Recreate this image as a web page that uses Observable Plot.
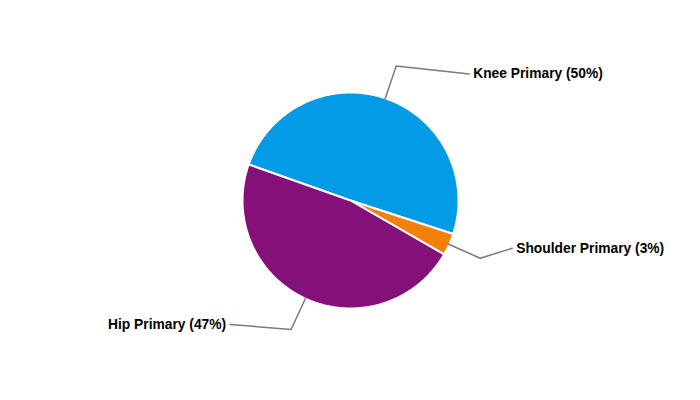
<!DOCTYPE html>
<html>
<head>
<meta charset="utf-8">
<script src="https://cdn.jsdelivr.net/npm/d3@7"></script>
<script src="https://cdn.jsdelivr.net/npm/@observablehq/plot@0.6"></script>
<style>
  html, body { margin: 0; padding: 0; background: #fff; }
  #chart { width: 700px; height: 400px; }
</style>
</head>
<body>
<div id="chart"></div>
<script>
// ---- data ----
const categories = ["Knee Primary", "Shoulder Primary", "Hip Primary"];
const shares = [49.6, 3.3, 47.1];
const colors = ["#039be5", "#f2800a", "#84107a"];

// ---- layout (not data) ----
const W = 700, H = 400;
const R = 108;            // pie radius
const elbowR = 142;       // leader-line elbow radius
const startDeg = -70.5;   // first slice starts here (clockwise from 12 o'clock)
const legs = [[73, 8], [32, -10], [-61, -5]]; // horizontal leg of each leader line
const labelGap = 4;
const font = "Arial, 'Liberation Sans', sans-serif";
const fontSize = 13.8;

const total = d3.sum(shares);
const pie = d3.pie().sort(null).value(d => d.value).startAngle(startDeg * Math.PI / 180)
  .endAngle(startDeg * Math.PI / 180 + 2 * Math.PI);
const arcs = pie(categories.map((c, i) => ({name: c, value: shares[i], color: colors[i]})));

const pt = (a, r) => ({x: r * Math.sin(a), y: -r * Math.cos(a)});

// slice polygons
const slicePts = [];
arcs.forEach(a => {
  const n = Math.max(4, Math.ceil((a.endAngle - a.startAngle) / 0.01));
  slicePts.push({name: a.data.name, x: 0, y: 0});
  for (let k = 0; k <= n; k++) {
    const ang = a.startAngle + (a.endAngle - a.startAngle) * k / n;
    slicePts.push({name: a.data.name, ...pt(ang, R)});
  }
  slicePts.push({name: a.data.name, x: 0, y: 0});
});

// leader lines and labels
const leaderPts = [];
const labels = [];
arcs.forEach((a, i) => {
  const mid = (a.startAngle + a.endAngle) / 2;
  const p0 = pt(mid, R - 1);
  const p1 = pt(mid, elbowR);
  const p2 = {x: p1.x + legs[i][0], y: p1.y + legs[i][1]};
  [p0, p1, p2].forEach(p => leaderPts.push({name: a.data.name, ...p}));
  const right = legs[i][0] >= 0;
  labels.push({
    x: p2.x + (right ? labelGap : -labelGap),
    y: p2.y,
    anchor: right ? "start" : "end",
    text: `${a.data.name} (${Math.round(a.data.value / total * 100)}%)`
  });
});

const chart = Plot.plot({
  width: W, height: H,
  margin: 0,
  x: {domain: [-350, 350], range: [0, W], axis: null},
  y: {domain: [-200, 200], range: [0, H], axis: null},
  color: {domain: categories, range: colors},
  marks: [
    Plot.line(slicePts, {x: "x", y: "y", z: "name", fill: "name", stroke: "white", strokeWidth: 2, curve: "linear-closed"}),
    Plot.line(leaderPts, {x: "x", y: "y", z: "name", stroke: "#7a7a7a", strokeWidth: 1.5}),
    Plot.text(labels.filter(d => d.anchor === "start"), {x: "x", y: "y", text: "text", textAnchor: "start", fill: "#000", fontWeight: "bold", fontSize, fontFamily: font}),
    Plot.text(labels.filter(d => d.anchor === "end"), {x: "x", y: "y", text: "text", textAnchor: "end", fill: "#000", fontWeight: "bold", fontSize, fontFamily: font})
  ]
});
document.getElementById("chart").appendChild(chart);
</script>
</body>
</html>
